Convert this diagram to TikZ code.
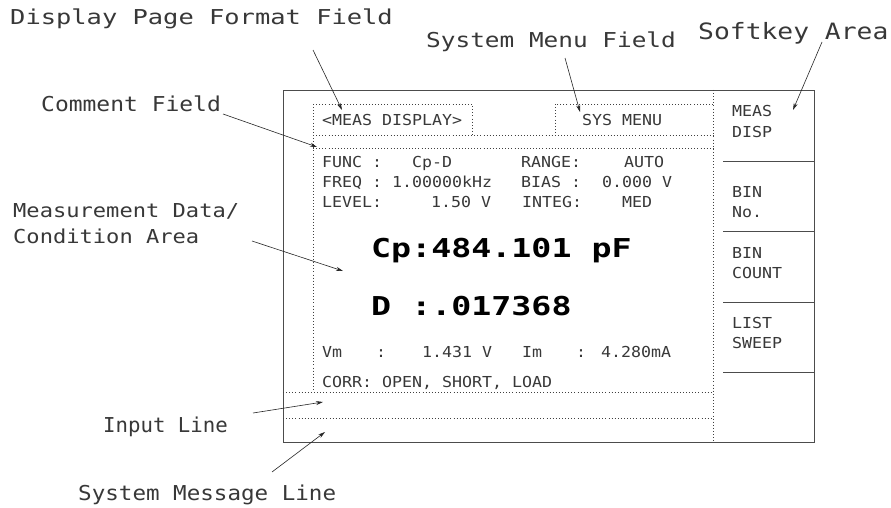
\documentclass[tikz,border=0pt]{standalone}
\usepackage{fontspec}
\usepackage{graphicx}
\usetikzlibrary{arrows.meta}
\newfontfamily\dmono{DejaVu Sans Mono}
\newcommand\lblfnt{\dmono\fontsize{20.5}{24}\selectfont}
\newcommand\scrfnt{\dmono\fontsize{15.1}{18}\selectfont}
\newcommand\bigfnt{\dmono\bfseries\fontsize{26}{30}\selectfont}
\newcommand\sx[2]{\scalebox{#1}[1]{#2}}
\tikzset{
  lbl/.style={anchor=base west, inner sep=0pt, text=black!78, font=\lblfnt},
  scr/.style={anchor=base west, inner sep=0pt, text=black!78, font=\scrfnt},
  bigtxt/.style={anchor=base west, inner sep=0pt, text=black, font=\bigfnt},
  frame/.style={draw=black!70, line width=0.9pt},
  dots/.style={draw=black!75, line width=0.9pt, dash pattern=on 0.9pt off 2.2pt},
  pointer/.style={draw=black!85, line width=0.6pt, -{Stealth[length=7pt,width=4pt]}}
}
\begin{document}
\begin{tikzpicture}[x=1pt,y=-1pt]
\useasboundingbox (0,0) rectangle (891,508);
\fill[white] (0,0) rectangle (891,508);

% frame
\draw[frame] (283,90) rectangle (814,442);
\draw[dots] (713,90) -- (713,442);
\foreach \yy in {161,231,302,372} \draw[frame] (723,\yy) -- (814,\yy);

% dotted fields
\draw[dots] (313,104) -- (472,104) -- (472,135);
\draw[dots] (713,104) -- (555,104) -- (555,135);
\draw[dots] (313,104) -- (313,392);
\draw[dots] (313,135) -- (713,135);
\draw[dots] (313,148) -- (713,148);
\draw[dots] (283,392) -- (713,392);
\draw[dots] (283,418) -- (713,418);

% screen texts
\node[scr] (meas) at (322,126) {\sx{1.1}{<MEAS DISPLAY>}};
\node[scr] (sys) at (582,126) {\sx{1.1}{SYS MENU}};
\node[scr] (func) at (322,167) {\sx{1.1}{FUNC :}};
\node[scr] (cpd) at (412,167) {\sx{1.1}{Cp-D}};
\node[scr] (range) at (521,167) {\sx{1.1}{RANGE:}};
\node[scr] (auto) at (624,167) {\sx{1.1}{AUTO}};
\node[scr] (freq) at (322,187) {\sx{1.1}{FREQ : 1.00000kHz}};
\node[scr] (bias) at (521,187) {\sx{1.1}{BIAS :}};
\node[scr] (biasv) at (602,187) {\sx{1.1}{0.000 V}};
\node[scr] (level) at (322,207) {\sx{1.1}{LEVEL:}};
\node[scr] (levelv) at (431,207) {\sx{1.1}{1.50 V}};
\node[scr] (integ) at (522,207) {\sx{1.1}{INTEG:}};
\node[scr] (med) at (622,207) {\sx{1.1}{MED}};
\node[bigtxt] (cp) at (371,257) {\sx{1.28}{Cp:484.101 pF}};
\node[bigtxt] (dd) at (371,315) {\sx{1.28}{D :.017368}};
\node[scr] (vm) at (322,357) {\sx{1.1}{Vm}};
\node[scr] (vmc) at (376,357) {\sx{1.1}{:}};
\node[scr] (vmv) at (422,357) {\sx{1.1}{1.431 V}};
\node[scr] (im) at (522,357) {\sx{1.1}{Im}};
\node[scr] (imc) at (576,357) {\sx{1.1}{:}};
\node[scr] (imv) at (601,357) {\sx{1.1}{4.280mA}};
\node[scr] (corr) at (322,387) {\sx{1.1}{CORR: OPEN, SHORT, LOAD}};

% softkeys
\node[scr] (k1a) at (732,117) {\sx{1.1}{MEAS}};
\node[scr] (k1b) at (732,137) {\sx{1.1}{DISP}};
\node[scr] (k2a) at (732,197) {\sx{1.1}{BIN}};
\node[scr] (k2b) at (732,217) {\sx{1.1}{No.}};
\node[scr] (k3a) at (732,258) {\sx{1.1}{BIN}};
\node[scr] (k3b) at (732,278) {\sx{1.1}{COUNT}};
\node[scr] (k4a) at (732,328) {\sx{1.1}{LIST}};
\node[scr] (k4b) at (732,348) {\sx{1.1}{SWEEP}};

% labels
\node[lbl] (dpf) at (10,25) {\sx{1.24}{Display Page Format Field}};
\node[lbl] (smf) at (426,48) {\sx{1.19}{System Menu Field}};
\node[lbl, font=\dmono\fontsize{22.5}{26}\selectfont] (ska) at (698,40) {\sx{1.17}{Softkey Area}};
\node[lbl] (cmf) at (41,112) {\sx{1.12}{Comment Field}};
\node[lbl, font=\dmono\fontsize{19.2}{23}\selectfont] (mda) at (13,217) {\sx{1.15}{Measurement Data/}};
\node[lbl, font=\dmono\fontsize{19.2}{23}\selectfont] (cda) at (13,243) {\sx{1.15}{Condition Area}};
\node[lbl] (inl) at (103,432) {\sx{1.01}{Input Line}};
\node[lbl] (sml) at (78,500) {\sx{1.1}{System Message Line}};

% pointer coordinates
\coordinate (dpfS) at (313,50);  \coordinate (dpfE) at (342,110);
\coordinate (smfS) at (565,58);  \coordinate (smfE) at (580,112);
\coordinate (skaS) at (822,42);  \coordinate (skaE) at (793,110);
\coordinate (cmfS) at (223,114); \coordinate (cmfE) at (317,147);
\coordinate (mdaS) at (252,241); \coordinate (mdaE) at (343,271);
\coordinate (inlS) at (253,413); \coordinate (inlE) at (323,402);
\coordinate (smlS) at (272,472); \coordinate (smlE) at (325,432);

\draw[pointer] (dpfS) -- (dpfE);
\draw[pointer] (smfS) -- (smfE);
\draw[pointer] (skaS) -- (skaE);
\draw[pointer] (cmfS) -- (cmfE);
\draw[pointer] (mdaS) -- (mdaE);
\draw[pointer] (inlS) -- (inlE);
\draw[pointer] (smlS) -- (smlE);
\end{tikzpicture}
\end{document}
